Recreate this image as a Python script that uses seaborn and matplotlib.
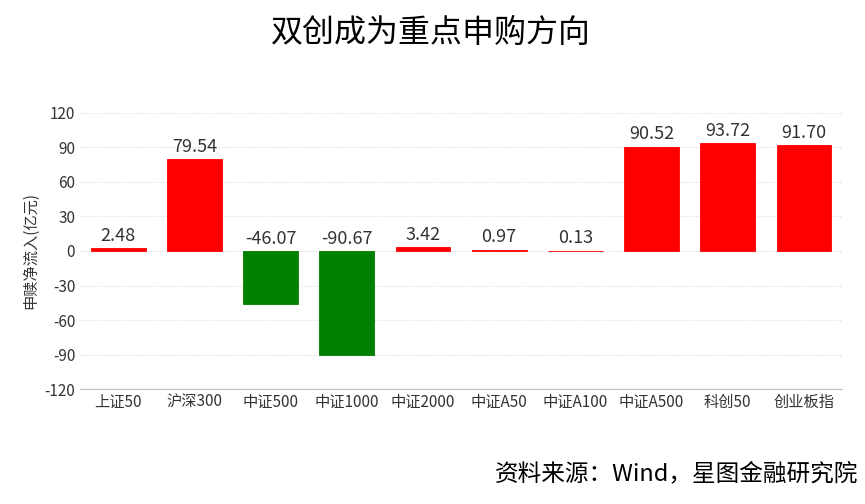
import matplotlib
matplotlib.use("Agg")
import matplotlib.pyplot as plt
import pandas as pd
import seaborn as sns

categories = ['上证50', '沪深300', '中证500', '中证1000', '中证2000',
              '中证A50', '中证A100', '中证A500', '科创50', '创业板指']
net_inflow = [2.48, 79.54, -46.07, -90.67, 3.42, 0.97, 0.13, 90.52, 93.72, 91.70]
y_ticks = [-120, -90, -60, -30, 0, 30, 60, 90, 120]

sns.set_style("white")
plt.rcParams['font.family'] = ['Noto Sans CJK SC', 'DejaVu Sans']
plt.rcParams['axes.unicode_minus'] = False

df = pd.DataFrame({'index': categories, 'value': net_inflow})
colors = ['#FF0000' if v >= 0 else '#008000' for v in net_inflow]

fig = plt.figure(figsize=(8.65, 5.04), dpi=100)
ax = fig.add_axes([0.0925, 0.228, 0.881, 0.548])
sns.barplot(data=df, x='index', y='value', hue='index', palette=colors,
            legend=False, width=0.72, ax=ax, saturation=1, linewidth=0.6)
# outline each bar in its own colour so the tiny ones still show as a line
for patch in ax.patches:
    patch.set_edgecolor(patch.get_facecolor())

for i, v in enumerate(net_inflow):
    y = v + 3 if v >= 0 else 3
    ax.text(i, y, f'{v:.2f}', ha='center', va='bottom', fontsize=13, color='#333333')

ax.set_ylim(-120, 120)
ax.set_yticks(y_ticks)
ax.set_yticklabels([str(t) for t in y_ticks], fontsize=11, color='#333333')
ax.tick_params(axis='y', length=0)
ax.set_xlim(-0.5, len(categories) - 0.5)
ax.set_xticks([i - 0.5 for i in range(len(categories) + 1)], minor=True)
ax.tick_params(axis='x', which='major', length=0, labelsize=11, colors='#333333')
ax.tick_params(axis='x', which='minor', length=5, color='#bfbfbf')
ax.grid(axis='y', linestyle=':', color='#d9d9d9', linewidth=0.8)
ax.set_axisbelow(True)
for s in ['top', 'right', 'left']:
    ax.spines[s].set_visible(False)
ax.spines['bottom'].set_color('#bfbfbf')
ax.set_xlabel('')
ax.set_ylabel('申赎净流入(亿元)', fontsize=11, color='#333333')

fig.text(0.498, 0.935, '双创成为重点申购方向', ha='center', va='center', fontsize=23, color='black')
fig.text(0.992, 0.06, '资料来源：Wind，星图金融研究院', ha='right', va='center', fontsize=17, color='black')

fig.savefig('out.png', dpi=100)
